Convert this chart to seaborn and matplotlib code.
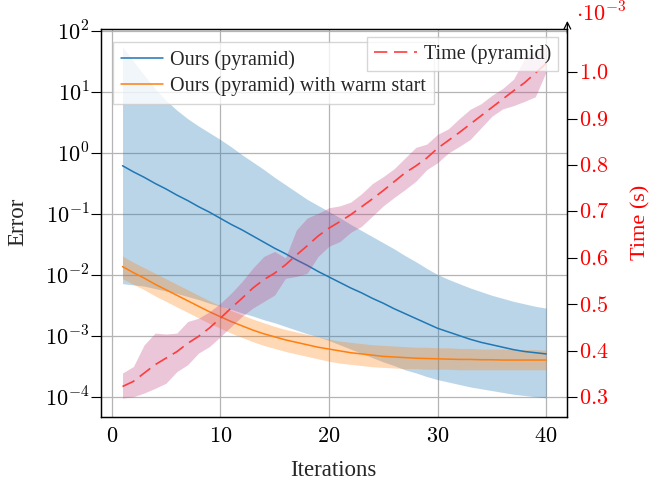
import numpy as np
import pandas as pd
import matplotlib
matplotlib.use('Agg')
import matplotlib.pyplot as plt
import seaborn as sns

iterations = list(range(1, 41))

# error curves, kept as log10(error)
ours_log10 = [-0.21, -0.31, -0.40, -0.50, -0.59, -0.69, -0.78, -0.88, -0.97, -1.07,
              -1.17, -1.26, -1.36, -1.46, -1.56, -1.65, -1.75, -1.84, -1.94, -2.03,
              -2.12, -2.21, -2.29, -2.38, -2.46, -2.55, -2.63, -2.71, -2.79, -2.87,
              -2.93, -2.99, -3.05, -3.10, -3.14, -3.18, -3.22, -3.25, -3.27, -3.29]
ours_hi_log10 = [1.74, 1.50, 1.27, 1.05, 0.86, 0.70, 0.56, 0.44, 0.33, 0.22,
                 0.10, -0.03, -0.15, -0.27, -0.40, -0.52, -0.64, -0.76, -0.86, -0.96,
                 -1.06, -1.17, -1.27, -1.37, -1.47, -1.57, -1.68, -1.78, -1.89, -1.99,
                 -2.07, -2.14, -2.21, -2.27, -2.33, -2.38, -2.43, -2.47, -2.51, -2.54]
ours_lo_log10 = [-2.14, -2.16, -2.18, -2.22, -2.26, -2.30, -2.35, -2.40, -2.46, -2.51,
                 -2.56, -2.62, -2.67, -2.73, -2.78, -2.84, -2.90, -2.96, -3.01, -3.07,
                 -3.14, -3.21, -3.28, -3.35, -3.42, -3.48, -3.55, -3.60, -3.66, -3.71,
                 -3.75, -3.79, -3.83, -3.86, -3.89, -3.92, -3.95, -3.97, -3.99, -4.01]
warm_log10 = [-1.86, -1.96, -2.05, -2.15, -2.24, -2.33, -2.42, -2.51, -2.60, -2.68,
              -2.76, -2.83, -2.90, -2.96, -3.01, -3.06, -3.10, -3.14, -3.18, -3.21,
              -3.24, -3.27, -3.29, -3.31, -3.33, -3.34, -3.35, -3.36, -3.365, -3.37,
              -3.375, -3.38, -3.38, -3.385, -3.385, -3.39, -3.39, -3.39, -3.39, -3.39]
warm_hi_log10 = [-1.69, -1.79, -1.88, -1.97, -2.06, -2.15, -2.24, -2.33, -2.42, -2.50,
                 -2.58, -2.65, -2.72, -2.78, -2.84, -2.89, -2.93, -2.97, -3.01, -3.05,
                 -3.08, -3.10, -3.12, -3.14, -3.15, -3.16, -3.17, -3.18, -3.18, -3.19,
                 -3.19, -3.20, -3.20, -3.21, -3.21, -3.21, -3.22, -3.22, -3.22, -3.23]
warm_lo_log10 = [-2.06, -2.15, -2.24, -2.34, -2.43, -2.52, -2.61, -2.70, -2.79, -2.87,
                 -2.95, -3.02, -3.09, -3.15, -3.20, -3.25, -3.29, -3.33, -3.37, -3.41,
                 -3.44, -3.46, -3.48, -3.50, -3.51, -3.52, -3.53, -3.53, -3.54, -3.54,
                 -3.54, -3.55, -3.55, -3.55, -3.55, -3.55, -3.55, -3.55, -3.55, -3.55]

# time per iteration, in units of 1e-3 s
time_mean = [0.323, 0.334, 0.352, 0.370, 0.384, 0.398, 0.416, 0.431, 0.449, 0.470,
             0.492, 0.513, 0.535, 0.553, 0.567, 0.585, 0.606, 0.626, 0.647, 0.664,
             0.678, 0.693, 0.710, 0.727, 0.745, 0.764, 0.783, 0.798, 0.815, 0.836,
             0.853, 0.870, 0.888, 0.906, 0.924, 0.942, 0.960, 0.977, 0.998, 1.019]
time_hi = [0.352, 0.366, 0.413, 0.438, 0.436, 0.438, 0.463, 0.470, 0.484, 0.502,
           0.524, 0.549, 0.578, 0.603, 0.614, 0.600, 0.660, 0.686, 0.696, 0.708,
           0.712, 0.720, 0.738, 0.760, 0.775, 0.792, 0.815, 0.838, 0.845, 0.866,
           0.878, 0.900, 0.920, 0.932, 0.950, 0.965, 0.985, 1.028, 1.045, 1.054]
time_lo = [0.298, 0.301, 0.309, 0.319, 0.330, 0.355, 0.370, 0.395, 0.409, 0.430,
           0.452, 0.474, 0.492, 0.506, 0.520, 0.556, 0.560, 0.567, 0.603, 0.625,
           0.635, 0.655, 0.668, 0.690, 0.712, 0.730, 0.747, 0.765, 0.790, 0.805,
           0.826, 0.840, 0.855, 0.880, 0.905, 0.921, 0.928, 0.937, 0.947, 1.001]

x_ticks = [0, 10, 20, 30, 40]
err_exponents = [-4, -3, -2, -1, 0, 1, 2]
time_ticks = [0.3, 0.4, 0.5, 0.6, 0.7, 0.8, 0.9, 1.0]

blue = '#1f77b4'
orange = '#ff7f0e'
red = '#ff3c3c'
pink = '#c0407f'

df = pd.DataFrame({
    'it': iterations,
    'ours': np.power(10.0, ours_log10),
    'ours_hi': np.power(10.0, ours_hi_log10),
    'ours_lo': np.power(10.0, ours_lo_log10),
    'warm': np.power(10.0, warm_log10),
    'warm_hi': np.power(10.0, warm_hi_log10),
    'warm_lo': np.power(10.0, warm_lo_log10),
    'time': time_mean,
    'time_hi': time_hi,
    'time_lo': time_lo,
})

sns.set_theme(style='white')
plt.rcParams['font.family'] = ['Liberation Serif', 'DejaVu Serif']
plt.rcParams['mathtext.fontset'] = 'cm'

fig = plt.figure(figsize=(6.55, 4.83), dpi=100)
ax = fig.add_axes([0.1547, 0.1373, 0.7115, 0.8017])

ax.fill_between(df['it'], df['ours_lo'], df['ours_hi'], color=blue, alpha=0.3, lw=0)
sns.lineplot(data=df, x='it', y='ours', ax=ax, color=blue, lw=1.1, label='Ours (pyramid)')
ax.fill_between(df['it'], df['warm_lo'], df['warm_hi'], color=orange, alpha=0.3, lw=0)
sns.lineplot(data=df, x='it', y='warm', ax=ax, color=orange, lw=1.1,
             label='Ours (pyramid) with warm start')

ax.set_yscale('log')
ax.set_xlim(-0.95, 41.95)
ax.set_ylim(10 ** -4.317, 10 ** 2.02)
ax.set_xticks(x_ticks)
ax.set_xticklabels([r'$%d$' % v for v in x_ticks])
ax.set_yticks([10.0 ** e for e in err_exponents])
ax.set_yticklabels([r'$10^{%d}$' % e for e in err_exponents])
ax.yaxis.set_minor_locator(matplotlib.ticker.NullLocator())
ax.tick_params(direction='out', length=7, width=0.8, color='black', labelsize=16,
               labelcolor='black', pad=1.5)
ax.grid(True, color='#b4b4b4', lw=0.9)
ax.set_xlabel('')
ax.set_ylabel('')
for s in ax.spines.values():
    s.set_color('black')
    s.set_linewidth(0.9)

ax.legend(loc='upper left', bbox_to_anchor=(0.025, 0.968), borderaxespad=0,
          fontsize=14.5, frameon=True, fancybox=False, edgecolor='#cccccc',
          framealpha=0.8, handlelength=2.1, handletextpad=0.35, labelspacing=0.35,
          borderpad=0.4)

ax2 = ax.twinx()
ax2.fill_between(df['it'], df['time_lo'], df['time_hi'], color=pink, alpha=0.3, lw=0)
sns.lineplot(data=df, x='it', y='time', ax=ax2, color=red, lw=1.2,
             linestyle=(0, (8, 4)), label='Time (pyramid)')
ax2.set_ylim(0.258, 1.092)
ax2.set_yticks(time_ticks)
ax2.set_yticklabels([r'$%.1f$' % v for v in time_ticks])
ax2.tick_params(axis='y', direction='out', length=7, width=0.8, color='black',
                labelsize=16, labelcolor='red', pad=1.5)
ax2.grid(False)
ax2.set_ylabel('')
ax2.set_xlabel('')
for s in ax2.spines.values():
    s.set_color('black')
    s.set_linewidth(0.9)
ax2.annotate('', xy=(1, 1.022), xytext=(1, 0.99), xycoords='axes fraction',
             annotation_clip=False,
             arrowprops=dict(arrowstyle='->', color='black', lw=0.9,
                             shrinkA=0, shrinkB=0))
ax2.legend(loc='upper right', bbox_to_anchor=(0.98, 0.98), borderaxespad=0,
           fontsize=14.5, frameon=True, fancybox=False, edgecolor='#cccccc',
           framealpha=0.8, handlelength=2.1, handletextpad=0.35, borderpad=0.35)

fig.text(333 / 655, 1 - 476 / 483, 'Iterations', ha='center', va='baseline', fontsize=16.5)
fig.text(17.5 / 655, 1 - 222 / 483, 'Error', ha='center', va='center', rotation=90,
         fontsize=16.5)
fig.text(641 / 655, 1 - 222 / 483, 'Time (s)', ha='center', va='center', rotation=90,
         fontsize=16, color='red')
fig.text(576 / 655, 1 - 21 / 483, r'$\cdot 10^{-3}$', ha='left', va='baseline',
         fontsize=16, color='red')

fig.savefig('out.png', dpi=100)
